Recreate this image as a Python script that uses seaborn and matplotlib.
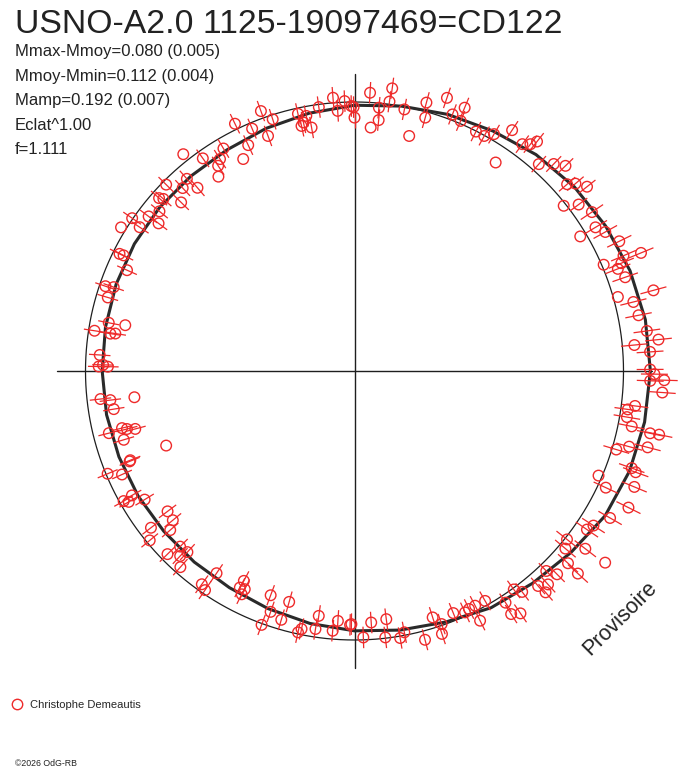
import numpy as np
import matplotlib
matplotlib.use("Agg")
import matplotlib.pyplot as plt
import seaborn as sns
from matplotlib.lines import Line2D

# ---------------- text ----------------
title = "USNO-A2.0 1125-19097469=CD122"
stats_lines = ["Mmax-Mmoy=0.080 (0.005)", "Mmoy-Mmin=0.112 (0.004)",
               "Mamp=0.192 (0.007)", "Eclat^1.00", "f=1.111"]
observer = "Christophe Demeautis"
credit = "\u00a92026 OdG-RB"
stamp = "Provisoire"

# ---------------- observations (phase in degrees, clockwise from top; radius; radial error) ----------------
phase_deg = [
    # upper left
    355.5, 357.9, 359.3, 0.0, 356.3, 352.3, 347.6, 349.3, 347.8, 350.0,
    348.4, 340.2, 342.0, 339.8, 337.1, 334.2, 334.8, 332.3, 329.5, 327.6,
    326.4, 325.0, 321.7, 324.5, 318.9, 316.8, 319.4, 314.7, 311.5, 312.0,
    314.2, 309.3, 306.9, 304.5, 301.6, 303.8, 307.0, 296.6, 296.5, 293.9,
    # upper right
    3.2, 7.6, 7.4, 5.3, 5.5, 3.8, 359.8, 10.8, 13.1, 15.0,
    15.6, 18.7, 22.7, 20.9, 23.0, 26.9, 28.9, 30.5, 33.2, 34.1,
    36.5, 37.8, 38.5, 41.7, 43.9, 45.8, 48.7, 51.6, 51.7, 53.4,
    56.2, 59.2, 61.0, 59.2, 63.9, 67.6, 68.0, 66.9, 68.8, 70.9,
    49.7, 66.8, 74.9, 74.3, 76.1, 78.9,
    # right
    82.2, 84.1, 84.7, 86.3, 89.7, 90.6, 91.9, 91.7, 94.0, 97.1,
    98.0, 99.6, 101.3, 101.9, 101.8, 105.4, 106.7, 104.6,
    # lower right
    109.3, 109.8, 113.2, 114.9, 112.5, 116.5, 119.9, 127.4, 122.9, 124.3,
    127.6, 128.4, 130.1, 132.0, 132.2, 135.1, 136.2, 137.8, 139.2, 139.5,
    143.9, 142.8, 146.9, 147.2, 145.6, 150.4, 153.3, 154.3, 155.4, 152.8,
    157.8, 161.0, 162.4, 161.6, 165.3, 169.2, 170.3, 173.4, 172.7, 176.2,
    178.1, 180.7,
    # lower left
    247.4, 246.0, 248.1, 240.6, 240.8, 239.9, 238.5, 233.1, 230.6, 232.4,
    229.2, 230.4, 225.6, 224.8, 222.7, 223.3, 221.6, 214.3, 215.6, 214.3,
    207.8, 207.9, 206.7, 206.8, 200.5, 195.8, 199.2, 196.4, 200.1, 188.3,
    183.8, 181.0, 191.6, 192.2, 188.6, 184.8,
    # left
    288.8, 289.2, 286.6, 281.1, 281.3, 278.8, 278.7, 278.9, 273.6, 271.4,
    271.0, 271.0, 263.2, 263.7, 263.2, 261.0, 255.8, 256.2, 255.7, 255.2,
    253.4, 248.4, 248.3,
]

radius = [
    1.019, 1.004, 0.985, 0.942, 0.969, 0.990, 0.979, 0.965, 0.932, 0.919,
    0.943, 1.027, 0.984, 0.931, 0.978, 1.021, 0.928, 0.890, 0.960, 0.933,
    0.916, 0.882, 1.027, 0.971, 0.948, 0.933, 0.897, 0.985, 0.970, 0.956,
    0.899, 0.937, 0.957, 1.003, 1.019, 0.961, 0.912, 0.960, 0.976, 0.925,
    1.036, 1.060, 1.010, 0.983, 0.937, 0.907, 0.981, 0.990, 0.897, 1.033,
    0.978, 1.072, 1.061, 1.021, 1.010, 0.998, 0.998, 1.022, 1.070, 0.936,
    1.049, 1.067, 1.090, 1.030, 1.068, 1.094, 1.052, 1.103, 0.991, 1.038,
    1.062, 1.043, 1.066, 0.977, 1.096, 1.152, 1.070, 1.007, 1.050, 1.065,
    1.077, 1.088, 1.151, 1.017, 1.068, 1.076,
    1.097, 1.136, 1.045, 1.101, 1.099, 1.115, 1.100, 1.152, 1.147, 1.051,
    1.026, 1.027, 1.051, 1.123, 1.157, 1.059, 1.016, 1.126,
    1.092, 1.111, 0.987, 1.030, 1.126, 1.138, 1.096, 1.173, 1.058, 1.046,
    1.083, 1.008, 1.025, 1.068, 1.121, 1.067, 1.030, 1.071, 1.087, 1.051,
    1.005, 1.031, 1.028, 1.075, 1.092, 0.983, 1.039, 0.982, 0.987, 0.981,
    0.972, 0.995, 0.961, 1.030, 1.033, 0.989, 1.007, 0.997, 0.930, 0.937,
    0.991, 0.941,
    0.994, 0.946, 0.901, 0.985, 0.948, 0.970, 0.915, 0.869, 0.874, 0.955,
    0.905, 0.988, 0.973, 0.920, 0.916, 0.945, 0.975, 0.910, 0.975, 0.986,
    0.882, 0.911, 0.908, 0.930, 0.890, 0.892, 0.948, 0.964, 1.005, 0.920,
    0.931, 0.944, 0.979, 0.994, 0.970, 0.969,
    0.978, 0.948, 0.957, 0.931, 0.869, 0.978, 0.918, 0.900, 0.949, 0.935,
    0.951, 0.917, 0.824, 0.950, 0.914, 0.906, 0.942, 0.890, 0.873, 0.843,
    0.895, 0.753, 0.897,
]

err = [
    .04, .04, .04, .04, .04, .04, .04, .04, .04, .04,
    .04, .04, .04, .04, .04, .04, .04, 0, .04, .04,
    .04, 0, 0, .04, .04, .04, .04, .04, .04, .04,
    .04, .04, .04, .04, 0, .04, .04, .04, .04, .04,
    .04, .04, .04, .04, .04, 0, .04, .04, 0, .04,
    .04, .04, .04, .04, .04, .04, .04, .04, .04, 0,
    .04, .04, .04, .04, .04, .04, .04, .04, 0, .04,
    .05, .05, .05, 0, .05, .05, .05, 0, .05, .05,
    .04, .05, .05, 0, .05, .05,
    .05, .05, .05, .05, .05, .05, .05, .05, .05, .05,
    .05, .05, .05, .05, .05, .05, .05, .05,
    .05, .05, 0, .05, .05, .05, .05, 0, .05, .05,
    .05, .05, .05, .05, .05, .04, .04, .04, .04, .04,
    .04, .04, .04, .04, .04, .04, .04, .04, .04, .04,
    .04, .04, .04, .04, .04, .04, .04, .04, .04, .04,
    .04, .04,
    .04, .04, .04, .04, .04, .04, .04, .04, .04, .04,
    .04, .04, .04, .04, .04, .04, .04, .04, .04, .04,
    .04, .04, .04, .04, .04, .04, .04, .04, .04, .04,
    .04, .04, .04, .04, .04, .04,
    .04, .04, .04, .04, 0, .04, .04, .04, .04, .04,
    .04, .04, 0, .04, .04, .04, .04, .04, .04, .04,
    .04, 0, .04,
]

# fitted light curve (radius vs phase)
fit_phase_deg = [0, 10, 20, 30, 40, 50, 60, 70, 80, 90, 100, 110,
                 120, 130, 140, 150, 160, 170, 180, 190, 200, 210, 220, 230,
                 240, 250, 260, 270, 280, 290, 300, 310, 320, 330, 340, 350]
fit_radius = [0.988, 1.000, 1.015, 1.030, 1.050, 1.066, 1.078, 1.090, 1.098, 1.100, 1.095, 1.088,
              1.076, 1.050, 1.030, 1.016, 0.993, 0.978, 0.966, 0.953, 0.940, 0.930, 0.927, 0.926,
              0.929, 0.932, 0.936, 0.938, 0.940, 0.943, 0.945, 0.946, 0.946, 0.949, 0.960, 0.973]

assert len(phase_deg) == len(radius) == len(err)

# ---------------- style ----------------
sns.set_theme(style="white")
plt.rcParams["font.family"] = ["Liberation Sans", "DejaVu Sans"]

RED = "#ee2a2a"
INK = "#1e1e1e"

W_PX, H_PX = 688, 768
fig = plt.figure(figsize=(W_PX / 100, H_PX / 100), dpi=100)
fig.patch.set_facecolor("white")

cx, cy = 354.5, 371.0      # centre, px from top-left
unit = 269.0               # px per radius unit
RMAX = 1.25
half = RMAX * unit
ax = fig.add_axes([(cx - half) / W_PX, (H_PX - cy - half) / H_PX,
                   2 * half / W_PX, 2 * half / H_PX], projection="polar")
ax.set_theta_zero_location("N")
ax.set_theta_direction(-1)
ax.set_rlim(0, RMAX)
ax.axis("off")

# reference circle
th = np.linspace(0, 2 * np.pi, 721)
ax.plot(th, np.ones_like(th), color=INK, lw=0.9, zorder=1)

# cross-hair
for a in [0, 90, 180, 270]:
    ax.plot([np.deg2rad(a)] * 2, [0, 1.105], color=INK, lw=1.0, zorder=1)

# fitted curve
fth = np.deg2rad(np.array(fit_phase_deg + [fit_phase_deg[0]]))
fr = np.array(fit_radius + [fit_radius[0]])
ax.plot(fth, fr, color="#2a2a2a", lw=2.2, zorder=2, solid_joinstyle="round")

# observations
theta = np.deg2rad(np.array(phase_deg))
r = np.array(radius)
ax.errorbar(theta, r, yerr=np.array(err), fmt="none", ecolor=RED,
            elinewidth=0.9, capsize=0, zorder=3)
sns.scatterplot(x=theta, y=r, ax=ax, s=58, marker="o", color=RED,
                facecolor="none", edgecolor=RED, linewidth=1.0,
                legend=False, zorder=4)
ax.set_xlabel("")
ax.set_ylabel("")

# ---------------- texts ----------------
fig.text(15 / W_PX, 1 - 33 / H_PX, title, fontsize=24.3, color="#222222", va="baseline")
for i, line in enumerate(stats_lines):
    fig.text(15 / W_PX, 1 - (56 + 24.6 * i) / H_PX, line, fontsize=12,
             color="#222222", va="baseline")

fig.text(620 / W_PX, 1 - 618 / H_PX, stamp, fontsize=15.5, color="#222222",
         rotation=45, ha="center", va="center", rotation_mode="anchor")

handle = Line2D([], [], ls="none", marker="o", mfc="none", mec=RED, mew=1.0, ms=7.5)
fig.legend([handle], [observer], loc="center left",
           bbox_to_anchor=(11.5 / W_PX, 1 - 705 / H_PX), frameon=False,
           fontsize=8, handlelength=1.0, handletextpad=0.7, borderpad=0,
           borderaxespad=0)

fig.text(15 / W_PX, 1 - 766 / H_PX, credit, fontsize=6.3, color="#222222", va="baseline")

fig.savefig("out.png", dpi=100, facecolor="white")
